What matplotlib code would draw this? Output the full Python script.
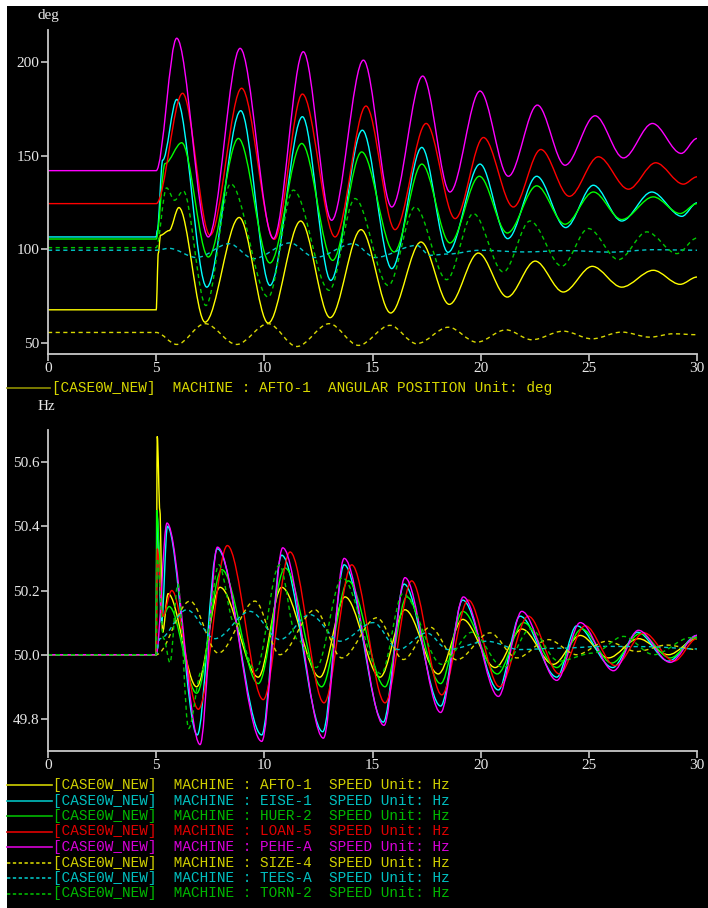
import matplotlib
matplotlib.use("Agg")
import matplotlib.pyplot as plt
from matplotlib.patches import Rectangle, PathPatch
from matplotlib.path import Path
from matplotlib.lines import Line2D

# ---- angular position (deg), peaks / troughs ----
t_afto_a = [0, 5.0, 5.1, 5.2, 5.6, 6.05, 7.26, 8.84, 10.18, 11.68, 13.04, 14.47, 15.84, 17.24, 18.55, 19.89,
            21.23, 22.52, 23.82, 25.16, 26.52, 27.98, 29.22, 30]
v_afto_a = [67.7, 67.7, 98, 107.5, 110, 122.3, 61.1, 117, 60.6, 115.1, 63.5, 110.5, 66, 103.9, 70.6, 98,
            74.5, 93.7, 77.2, 90.9, 79.8, 88.8, 81.3, 85.2]
t_eise_a = [0, 5.0, 5.05, 5.3, 5.95, 7.34, 8.91, 10.26, 11.76, 13.07, 14.53, 15.89, 17.28, 18.49, 19.97,
            21.25, 22.59, 23.93, 25.21, 26.52, 27.91, 29.30, 30]
v_eise_a = [106.6, 106.6, 110, 147.6, 180, 79.8, 174, 80.7, 170.8, 83.4, 163.6, 89.7, 154.4, 98.4, 145.5,
            105.7, 139, 111.6, 134.2, 115.1, 130.6, 117.6, 124.8]
t_huer_a = [0, 5.0, 5.41, 6.18, 7.41, 8.80, 10.26, 11.73, 13.16, 14.50, 16.0, 17.28, 18.58, 19.94, 21.23,
            22.59, 23.90, 25.21, 26.52, 27.98, 29.22, 30]
v_huer_a = [105.5, 105.5, 145.8, 156.9, 95.9, 159.2, 92.7, 156.5, 94.1, 152, 98.6, 145.5, 103.4, 139, 108.7,
            133.9, 113.4, 130.6, 115.9, 128, 119.1, 124.4]
t_loan_a = [0, 5.0, 6.22, 7.49, 8.95, 10.46, 11.76, 13.27, 14.70, 16.04, 17.48, 18.82, 20.13, 21.51,
            22.78, 24.10, 25.44, 26.83, 28.09, 29.37, 30]
v_loan_a = [124.4, 124.4, 183.3, 107.5, 186, 105.3, 182.9, 106.6, 176.5, 110.5, 167.2, 116.4, 159.7,
            122.6, 153.3, 128.3, 149.4, 132.1, 146.2, 134.8, 138.7]
t_pehe_a = [0, 5.0, 5.95, 7.41, 8.88, 10.42, 11.80, 13.11, 14.58, 15.89, 17.32, 18.58, 19.97, 21.28,
            22.62, 23.90, 25.29, 26.6, 27.94, 29.27, 30]
v_pehe_a = [142, 142, 212.7, 106.6, 207.3, 105.7, 205.5, 115.5, 201, 122.6, 192.5, 130.6, 184.5,
            139, 177, 144.9, 171.3, 148.8, 167.2, 151.2, 159.2]
t_size_a = [0, 5.0, 5.95, 7.26, 8.72, 10.18, 11.5, 13.0, 14.35, 15.81, 17.04, 18.51, 19.82, 21.17, 22.36, 23.82,
            25.14, 26.52, 27.83, 28.9, 30]
v_size_a = [55.6, 55.6, 49.2, 60.3, 49.2, 60.3, 48.1, 60.3, 48.7, 59.4, 49.6, 58.4, 50.4, 57, 51.7, 56.3,
            52.2, 55.8, 53.1, 54.9, 54.4]
t_tees_a = [0, 5.0, 5.6, 6.87, 8.38, 9.49, 11.19, 12.34, 14.11, 15.12, 17.04, 17.66, 18.5, 19.97, 22, 24, 26, 28, 30]
v_tees_a = [99.5, 99.5, 100.5, 95.6, 103, 95, 103.4, 95.6, 103, 95.6, 102.1, 96.8, 97.5, 99.5, 98.6, 99.3, 98.5,
            99.8, 99.5]
t_torn_a = [0, 5.0, 5.48, 5.85, 6.25, 7.3, 8.44, 10.18, 11.34, 13.0, 14.19, 15.73, 16.97, 18.43, 19.66, 21.05,
            22.28, 23.75, 24.98, 26.37, 27.68, 29.07, 30]
v_torn_a = [100.9, 100.9, 132.8, 126.2, 131.2, 70, 135, 74.5, 131.6, 78.1, 127.1, 80.7, 122.6, 83.8, 119.1, 87.9,
            115.1, 91, 111.1, 94.5, 109.3, 97.7, 106]

# ---- speed (Hz) ----
t_afto_s = [0, 5.0, 5.05, 5.17, 5.3, 5.55, 6.87, 7.95, 9.72, 10.80, 12.57, 13.73, 15.35, 16.5,
            18.04, 19.17, 20.67, 21.90, 23.36, 24.6, 25.9, 27.29, 28.68, 30]
v_afto_s = [50, 50, 50.68, 50.45, 50.07, 50.19, 49.90, 50.21, 49.93, 50.21, 49.93, 50.18,
            49.93, 50.14, 49.94, 50.11, 49.96, 50.08, 49.97, 50.06, 49.99, 50.05, 50.0, 50.05]
t_eise_s = [0, 5.0, 5.03, 5.25, 5.52, 6.9, 7.83, 9.88, 10.8, 12.7, 13.69, 15.5, 16.46, 18.15, 19.17,
            20.82, 21.82, 23.52, 24.44, 26.1, 27.25, 28.68, 30]
v_eise_s = [50, 50, 50.44, 50.1, 50.40, 49.75, 50.33, 49.75, 50.31, 49.76, 50.28, 49.79, 50.22,
            49.84, 50.17, 49.89, 50.12, 49.93, 50.09, 49.96, 50.07, 49.98, 50.06]
t_huer_s = [0, 5.0, 5.02, 5.3, 5.6, 6.87, 8.03, 9.72, 10.96, 12.65, 13.88, 15.58, 16.58, 18.15, 19.17,
            20.77, 21.98, 23.52, 24.67, 26.06, 27.37, 28.76, 30]
v_huer_s = [50, 50, 50.45, 50.12, 50.15, 49.88, 50.265, 49.91, 50.27, 49.90, 50.23, 49.90, 50.18, 49.91,
            50.135, 49.94, 50.10, 49.96, 50.08, 49.974, 50.066, 49.99, 50.055]
t_loan_s = [0, 5.0, 5.05, 5.3, 5.72, 6.95, 8.29, 9.95, 11.19, 12.76, 14.04, 15.58, 16.81, 18.2, 19.43,
            20.87, 22.2, 23.64, 24.83, 26.21, 27.55, 28.94, 30]
v_loan_s = [50, 50, 50.33, 50.12, 50.20, 49.83, 50.34, 49.86, 50.32, 49.85, 50.28, 49.85, 50.23, 49.875,
            50.17, 49.90, 50.12, 49.94, 50.09, 49.966, 50.068, 49.98, 50.05]
t_pehe_s = [0, 5.0, 5.5, 7.03, 7.83, 9.88, 10.85, 12.73, 13.69, 15.53, 16.5, 18.15, 19.2,
            20.82, 21.9, 23.52, 24.6, 26.14, 27.29, 28.76, 30]
v_pehe_s = [50, 50, 50.41, 49.72, 50.335, 49.73, 50.333, 49.74, 50.30, 49.78, 50.24,
            49.82, 50.18, 49.87, 50.135, 49.92, 50.10, 49.95, 50.076, 49.976, 50.06]
t_size_s = [0, 5.0, 6.56, 7.87, 9.57, 10.72, 12.34, 13.58, 15.2, 16.43, 17.66, 18.89, 20.43, 21.67,
            23.13, 24.44, 25.83, 27.22, 28.6, 30]
v_size_s = [50, 50, 50.167, 50.005, 50.167, 50.0, 50.14, 49.99, 50.115, 49.985, 50.086, 49.984,
            50.068, 49.99, 50.047, 50.0, 50.042, 50.01, 50.03, 50.016]
t_tees_s = [0, 5.0, 5.17, 6.41, 7.72, 9.34, 10.72, 12.11, 13.5, 15.04, 16.2, 17.5, 18.5, 20.28, 21.82,
            23.5, 25.83, 27.68, 30]
v_tees_s = [50, 50, 50.05, 50.14, 50.05, 50.135, 50.047, 50.125, 50.042, 50.10, 50.016, 50.068, 50.016,
            50.042, 50.016, 50.02, 50.026, 50.025, 50.018]
t_torn_s = [0, 5.0, 5.05, 5.35, 5.64, 6.0, 6.5, 7.1, 7.9, 8.6, 9.6, 10.7, 11.5, 12.4, 13.6, 15.4, 16.4, 18.2,
            19.6, 21.05, 22.3, 23.6, 25.2, 26.6, 28.0, 29.7, 30]
v_torn_s = [50, 50, 50.30, 50.05, 49.975, 50.22, 49.77, 49.95, 50.28, 50.1, 49.95, 50.28, 50.05, 49.96, 50.24,
            49.94, 50.19, 49.97, 50.07, 49.96, 50.08, 49.98, 50.005, 50.057, 50.0, 50.053, 50.05]

machines = ["AFTO-1", "EISE-1", "HUER-2", "LOAN-5", "PEHE-A", "SIZE-4", "TEES-A", "TORN-2"]
line_colors = ["#ffff00", "#00ffff", "#00ff00", "#ff0000", "#ff00ff", "#d8d800", "#00c8c8", "#00c800"]
text_colors = ["#d0d000", "#00c0c0", "#00b800", "#e00000", "#d800d8", "#d0d000", "#00c0c0", "#00b800"]
dashed = [False, False, False, False, False, True, True, True]

ang_t = [t_afto_a, t_eise_a, t_huer_a, t_loan_a, t_pehe_a, t_size_a, t_tees_a, t_torn_a]
ang_v = [v_afto_a, v_eise_a, v_huer_a, v_loan_a, v_pehe_a, v_size_a, v_tees_a, v_torn_a]
spd_t = [t_afto_s, t_eise_s, t_huer_s, t_loan_s, t_pehe_s, t_size_s, t_tees_s, t_torn_s]
spd_v = [v_afto_s, v_eise_s, v_huer_s, v_loan_s, v_pehe_s, v_size_s, v_tees_s, v_torn_s]

W, H = 708, 908
fig = plt.figure(figsize=(W / 100, H / 100), dpi=100, facecolor="white")
fig.patches.append(Rectangle((7 / W, 0), 1, (H - 6) / H, transform=fig.transFigure,
                             facecolor="black", edgecolor="none", zorder=-10))

axis_col = "#c8c8c8"


def fx(px):
    return px / W


def fy(py):
    return 1 - py / H


def style_ax(ax):
    ax.set_facecolor("none")
    for s in ["top", "right"]:
        ax.spines[s].set_visible(False)
    for s in ["left", "bottom"]:
        ax.spines[s].set_color(axis_col)
        ax.spines[s].set_linewidth(1.3)
    ax.tick_params(colors=axis_col, labelcolor="#e8e8e8", length=5, width=1.2, pad=1)
    for lab in ax.get_xticklabels() + ax.get_yticklabels():
        lab.set_fontfamily("Liberation Serif")
        lab.set_fontsize(11)


def smooth_line(ax, t, v, color, dash):
    # smooth (spline-style) line through the read points, flat tangent at each point
    verts = [(t[0], v[0])]
    codes = [Path.MOVETO]
    for i in range(len(t) - 1):
        d = (t[i + 1] - t[i]) / 3
        verts += [(t[i] + d, v[i]), (t[i + 1] - d, v[i + 1]), (t[i + 1], v[i + 1])]
        codes += [Path.CURVE4] * 3
    p = PathPatch(Path(verts, codes), facecolor="none", edgecolor=color, lw=1.0)
    if dash:
        p.set_linestyle((0, (3, 2.5)))
    ax.add_patch(p)


def draw_series(ax, ts, vs):
    for i in range(8):
        smooth_line(ax, ts[i], vs[i], line_colors[i], dashed[i])


ax1 = fig.add_axes([fx(48), fy(354), fx(649), 324 / H])
draw_series(ax1, ang_t, ang_v)
ax1.set_xlim(0, 30)
ax1.set_xticks([0, 5, 10, 15, 20, 25, 30])
ax1.set_ylim(44.1, 217.1)
ax1.set_yticks([50, 100, 150, 200])
style_ax(ax1)

ax2 = fig.add_axes([fx(48), fy(751), fx(649), 321 / H])
draw_series(ax2, spd_t, spd_v)
ax2.set_xlim(0, 30)
ax2.set_xticks([0, 5, 10, 15, 20, 25, 30])
ax2.set_ylim(49.70, 50.70)
ax2.set_yticks([49.8, 50.0, 50.2, 50.4, 50.6])
ax2.set_yticklabels(["49.8", "50.0", "50.2", "50.4", "50.6"])
style_ax(ax2)

fig.text(fx(38), fy(16), "deg", color="#e8e8e8", fontfamily="Liberation Serif", fontsize=11, va="center")
fig.text(fx(38), fy(406), "Hz", color="#e8e8e8", fontfamily="Liberation Serif", fontsize=11, va="center")

mono = "Liberation Mono"

# top legend
fig.lines.append(Line2D([fx(7), fx(50)], [fy(388), fy(388)], color="#909000", lw=1.2,
                        transform=fig.transFigure))
fig.text(fx(52), fy(388), "[CASE0W_NEW]  MACHINE : AFTO-1  ANGULAR POSITION Unit: deg",
         color="#d8d800", fontfamily=mono, fontsize=10.4, va="center")

# bottom legend
rows_y = [785, 800.5, 816, 831.5, 847, 862.5, 878, 893.5]
for i in range(8):
    y = fy(rows_y[i])
    if dashed[i]:
        ln = Line2D([fx(7), fx(52)], [y, y], color=text_colors[i], lw=1.2, dashes=(2, 1.5),
                    transform=fig.transFigure)
    else:
        ln = Line2D([fx(7), fx(52)], [y, y], color=text_colors[i], lw=1.2, transform=fig.transFigure)
    fig.lines.append(ln)
    fig.text(fx(53), y, "[CASE0W_NEW]  MACHINE : %s  SPEED Unit: Hz" % machines[i],
             color=text_colors[i], fontfamily=mono, fontsize=10.4, va="center")

fig.savefig("out.png", dpi=100, facecolor=fig.get_facecolor())
